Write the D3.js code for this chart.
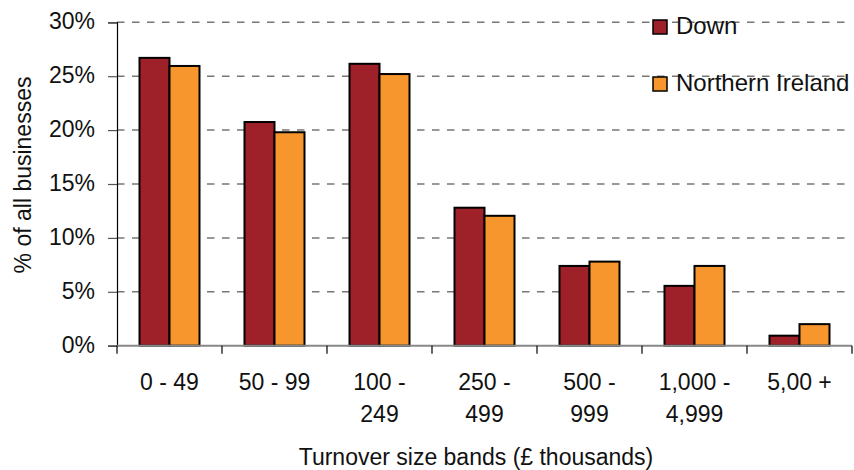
<!DOCTYPE html>
<html>
<head>
<meta charset="utf-8">
<script src="https://cdn.jsdelivr.net/npm/d3@7"></script>
<style>
  html, body { margin: 0; padding: 0; background: #fff; }
  svg { display: block; font-family: "Liberation Sans", Arial, sans-serif; }
</style>
</head>
<body>
<script>
const categories = ["0 - 49", "50 - 99", "100 - 249", "250 - 499", "500 - 999", "1,000 - 4,999", "5,00 +"];
const categoryLines = [["0 - 49"], ["50 - 99"], ["100 -", "249"], ["250 -", "499"], ["500 -", "999"], ["1,000 -", "4,999"], ["5,00 +"]];
const seriesNames = ["Down", "Northern Ireland"];
const downValues = [26.7, 20.75, 26.15, 12.8, 7.4, 5.55, 0.93];
const niValues = [25.95, 19.8, 25.2, 12.05, 7.8, 7.4, 2.0];
const yTicks = [0, 5, 10, 15, 20, 25, 30];
const colors = ["#9E2129", "#F7962C"];

const W = 854, H = 470;
const mLeft = 117, mRight = 852, mTop = 22.3, mBottom = 345.7;
const FS = 23;

const svg = d3.select("body").append("svg").attr("width", W).attr("height", H);

const x0 = d3.scaleBand().domain(categories).range([mLeft, mRight])
  .paddingInner(0.4286).paddingOuter(0.2143);
const x1 = d3.scaleBand().domain(seriesNames).range([0, x0.bandwidth()]);
const y = d3.scaleLinear().domain([0, 30]).range([mBottom, mTop]);

// gridlines
svg.append("g").selectAll("line").data(yTicks.filter(t => t > 0)).join("line")
  .attr("x1", mLeft).attr("x2", mRight)
  .attr("y1", d => y(d)).attr("y2", d => y(d))
  .attr("stroke", "#777").attr("stroke-width", 1.5)
  .attr("stroke-dasharray", "7.5,7.5");

// y axis
const yAxis = d3.axisLeft(y).tickValues(yTicks).tickSize(9).tickFormat(d => d + "%");
const gy = svg.append("g").attr("transform", `translate(${mLeft},0)`).call(yAxis);
gy.select(".domain").attr("stroke", "#000").attr("stroke-width", 1.2);
gy.selectAll(".tick line").attr("stroke", "#555").attr("stroke-width", 1.2);
gy.selectAll(".tick text").attr("font-size", FS).attr("fill", "#111")
  .attr("font-family", "Liberation Sans, Arial, sans-serif")
  .attr("x", -22).attr("dy", "0.28em");

// bars
const data = categories.map((c, i) => ({ c, vals: [downValues[i], niValues[i]] }));
const groups = svg.append("g").selectAll("g").data(data).join("g")
  .attr("transform", d => `translate(${x0(d.c)},0)`);
groups.selectAll("rect").data(d => d.vals.map((v, j) => ({ name: seriesNames[j], v, j }))).join("rect")
  .attr("x", d => x1(d.name))
  .attr("width", x1.bandwidth())
  .attr("y", d => y(d.v))
  .attr("height", d => y(0) - y(d.v))
  .attr("fill", d => colors[d.j])
  .attr("stroke", "#000").attr("stroke-width", 2);

// x axis baseline
svg.append("line").attr("x1", mLeft).attr("x2", mRight).attr("y1", mBottom).attr("y2", mBottom)
  .attr("stroke", "#888").attr("stroke-width", 2);
// x ticks at category boundaries
const step = x0.step();
const bPos = categories.map((c, i) => mLeft + i * step).concat([mRight]);
svg.append("g").selectAll("line").data(bPos).join("line")
  .attr("x1", d => d).attr("x2", d => d)
  .attr("y1", mBottom).attr("y2", mBottom + 8)
  .attr("stroke", "#000").attr("stroke-width", 1.2);

// x labels
const xl = svg.append("g").selectAll("text").data(categories).join("text")
  .attr("x", d => x0(d) + x0.bandwidth() / 2)
  .attr("y", 390)
  .attr("text-anchor", "middle").attr("font-size", FS).attr("fill", "#111");
xl.each(function(d, i) {
  const t = d3.select(this);
  categoryLines[i].forEach((ln, k) => {
    t.append("tspan").attr("x", x0(d) + x0.bandwidth() / 2).attr("dy", k === 0 ? 0 : 32).text(ln);
  });
});

// axis titles
svg.append("text").attr("x", 476).attr("y", 465).attr("text-anchor", "middle")
  .attr("font-size", FS).attr("fill", "#111").text("Turnover size bands (£ thousands)");
svg.append("text").attr("transform", "translate(31,175) rotate(-90)").attr("text-anchor", "middle")
  .attr("font-size", FS).attr("fill", "#111").text("% of all businesses");

// legend
const leg = svg.append("g");
const legY = [20, 77];
seriesNames.forEach((n, i) => {
  leg.append("rect").attr("x", 653).attr("y", legY[i]).attr("width", 14).attr("height", 14)
    .attr("fill", colors[i]).attr("stroke", "#000").attr("stroke-width", 1.5);
  leg.append("text").attr("x", 676).attr("y", legY[i] + 14).attr("font-size", 24)
    .attr("fill", "#111").text(n);
});
</script>
</body>
</html>
